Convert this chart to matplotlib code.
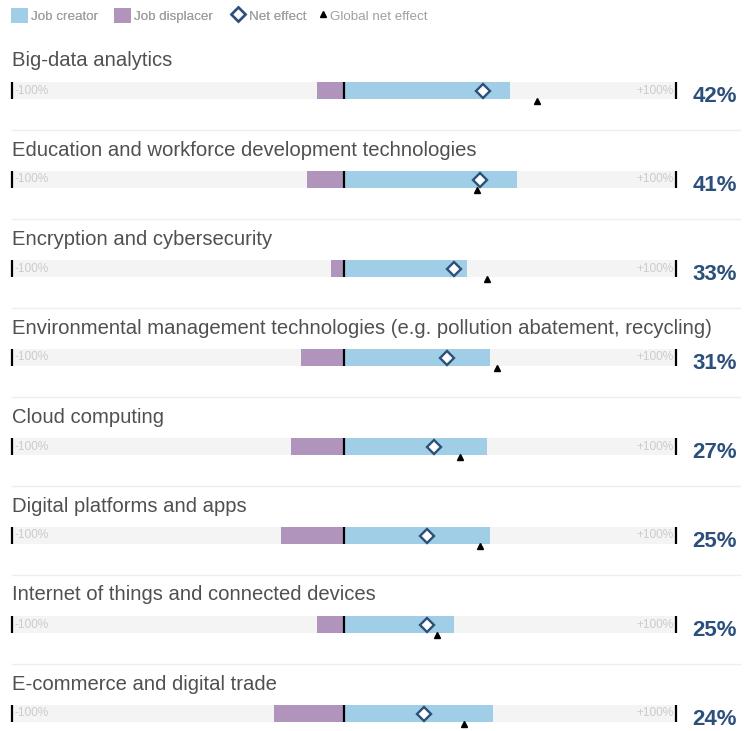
import matplotlib
matplotlib.use('Agg')
import matplotlib.pyplot as plt
from matplotlib.lines import Line2D
from matplotlib.patches import Patch

# Data (percent of respondents)
technologies = [
    'Big-data analytics',
    'Education and workforce development technologies',
    'Encryption and cybersecurity',
    'Environmental management technologies (e.g. pollution abatement, recycling)',
    'Cloud computing',
    'Digital platforms and apps',
    'Internet of things and connected devices',
    'E-commerce and digital trade',
]
job_creator = [50, 52, 37, 44, 43, 44, 33, 45]
job_displacer = [8, 11, 4, 13, 16, 19, 8, 21]
net_effect = [42, 41, 33, 31, 27, 25, 25, 24]
global_net = [58, 40, 43, 46, 35, 41, 28, 36]

# Colours
BLUE = '#a0cee6'
PURPLE = '#b094bc'
TRACK = '#f4f4f4'
NAVY = '#2c4f7c'

plt.rcParams['font.family'] = ['Liberation Sans', 'DejaVu Sans']

W, H = 753, 731
fig = plt.figure(figsize=(W / 100, H / 100), dpi=100, facecolor='white')

# Layout in pixels
left_px, right_px = 12, 676
row_gap = 89
first_center = 90.5
track_h = 17

for i, name in enumerate(technologies):
    cy = first_center + i * row_gap
    ax = fig.add_axes([left_px / W, 1 - (cy + track_h / 2) / H,
                       (right_px - left_px) / W, track_h / H])
    ax.set_xlim(-100, 100)
    ax.set_ylim(-0.5, 0.5)
    ax.axis('off')

    ax.barh(0, 200, left=-100, height=1, color=TRACK, zorder=1)
    ax.barh(0, -job_displacer[i], height=1, color=PURPLE, zorder=2)
    ax.barh(0, job_creator[i], height=1, color=BLUE, zorder=2)
    ax.vlines([-100, 0, 100], -0.5, 0.5, color='black', lw=1.6, zorder=3, clip_on=False)

    ax.text(-99.2, 0, '-100%', fontsize=8.6, color='#cccccc', va='center', ha='left', zorder=4)
    ax.text(99.2, 0, '+100%', fontsize=8.6, color='#cccccc', va='center', ha='right', zorder=4)

    ax.plot(net_effect[i], 0, marker='D', ms=7.3, mfc='white', mec=NAVY, mew=1.7,
            zorder=5, clip_on=False)
    ax.plot(global_net[i], -0.64, marker='^', ms=4.6, color='black', zorder=5, clip_on=False)

    ax.text(1.025, 0.12, f'{net_effect[i]}%', transform=ax.transAxes, fontsize=16,
            fontweight='bold', color=NAVY, va='center', ha='left')

    fig.text(left_px / W, 1 - (cy - 24) / H, name, fontsize=14.6, color='#505050',
             va='baseline', ha='left')

    if i < len(technologies) - 1:
        sy = 1 - (cy + 39.5) / H
        fig.add_artist(Line2D([12 / W, 740 / W], [sy, sy], color='#eeeeee', lw=1))

# Legend (two pieces so the triangle key sits tight against its label)
handles = [
    Patch(facecolor=BLUE, edgecolor='none', label='Job creator'),
    Patch(facecolor=PURPLE, edgecolor='none', label='Job displacer'),
    Line2D([], [], ls='none', marker='D', ms=7.6, mfc='white', mec=NAVY, mew=1.8, label='Net effect'),
]
leg_kw = dict(frameon=False, fontsize=9.6, handleheight=1.3, borderpad=0, borderaxespad=0)
leg = fig.legend(handles=handles, loc='center left', bbox_to_anchor=(11 / W, 1 - 15.5 / H),
                 ncol=3, handlelength=1.3, handletextpad=0.2, columnspacing=1.2, **leg_kw)
leg2 = fig.legend(handles=[Line2D([], [], ls='none', marker='^', ms=4.6, color='black',
                                  label='Global net effect')],
                  loc='center left', bbox_to_anchor=(319 / W, 1 - 15.5 / H),
                  handlelength=0.6, handletextpad=0.25, **leg_kw)
fig.add_artist(leg)
for lg in (leg, leg2):
    for t in lg.get_texts():
        t.set_color('#a0a0a0')

plt.savefig('out.png', dpi=100)
